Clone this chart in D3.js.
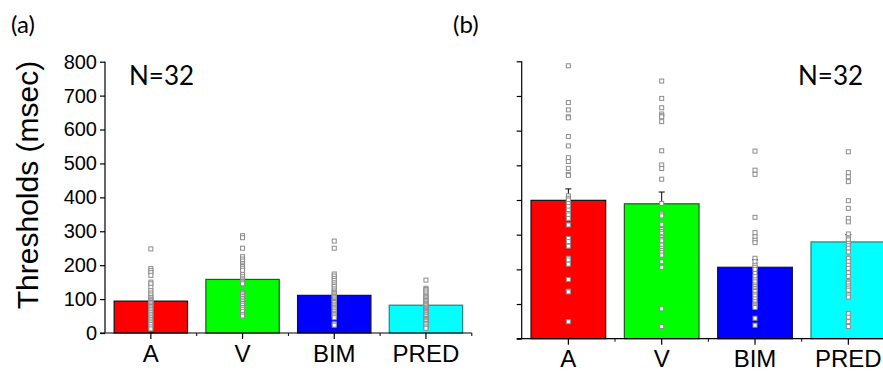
<!DOCTYPE html>
<html><head><meta charset="utf-8">
<script src="https://cdn.jsdelivr.net/npm/d3@7"></script>
<style>body{margin:0;background:#fff}svg{display:block}</style>
</head><body>
<svg id="c" width="883" height="371"></svg>
<script>
const categories = ["A", "V", "BIM", "PRED"];
const barColors = ["#ff0000", "#00ff00", "#0000ff", "#00ffff"];
const barStrokes = ["#111111", "#1b5e1b", "#101040", "#2a7f7f"];
const yTicks = [0, 100, 200, 300, 400, 500, 600, 700, 800];

// panel (a)
const meansA = [94, 158, 111, 82];
const pointsA = [
  [248,190,184,178,170,150,145,135,125,118,112,105,100,97,94,90,86,82,78,74,70,65,60,55,50,45,40,35,30,25,18,12],
  [287,281,250,225,218,212,205,200,196,191,185,172,166,160,156,152,148,145,120,117,112,107,102,97,92,87,82,75,70,63,55,50],
  [271,250,174,168,161,155,148,142,137,130,124,120,116,112,108,104,100,97,93,90,85,80,76,73,68,63,58,54,50,45,27,23],
  [156,132,128,124,118,112,108,104,100,96,92,88,85,83,80,76,73,70,66,63,60,56,53,48,43,40,36,33,28,24,18,14]
];
// panel (b)
const meansB = [399, 389, 206, 279];
const errTopB = [432, 423, 228, 300];
const pointsB = [
  [787,681,660,640,637,583,556,522,511,491,474,471,412,405,400,390,381,371,361,357,347,328,289,280,267,232,227,215,171,137,135,49],
  [743,693,666,648,643,640,626,542,501,491,460,390,362,359,354,330,315,309,304,294,291,286,282,270,261,254,248,241,222,206,86,35],
  [541,486,474,350,306,294,284,277,232,222,212,206,200,188,179,170,164,155,150,145,140,136,128,123,115,107,100,97,94,90,59,39],
  [539,479,467,453,398,376,347,337,302,290,285,275,268,261,250,232,222,212,203,190,180,164,160,152,146,140,126,120,73,62,49,35]
];
const yTitle = "Thresholds (msec)";
const nLabel = "N=32";

const svg = d3.select("#c");
const tickFont = "'Liberation Sans', Arial, sans-serif";
const noteFont = "Lato, 'Open Sans', sans-serif";

function panel(opt) {
  const g = svg.append("g");
  const x = d3.scaleBand().domain(categories).range([opt.x0, opt.x1]).paddingInner(0.2).paddingOuter(0.1);
  const y = d3.scaleLinear().domain([0, 800]).range([opt.y0, opt.y1]);
  g.selectAll("rect.bar").data(opt.means).join("rect")
    .attr("x", (d, i) => x(categories[i]))
    .attr("y", d => y(d))
    .attr("width", x.bandwidth())
    .attr("height", d => y(0) - y(d))
    .attr("fill", (d, i) => barColors[i])
    .attr("stroke", (d, i) => barStrokes[i])
    .attr("stroke-width", 1.2);
  if (opt.err) {
    opt.err.forEach((e, i) => {
      const cx = x(categories[i]) + x.bandwidth() / 2;
      g.append("line").attr("x1", cx).attr("x2", cx).attr("y1", y(opt.means[i])).attr("y2", y(e)).attr("stroke", "#000").attr("stroke-width", 1);
      g.append("line").attr("x1", cx - 3).attr("x2", cx + 3).attr("y1", y(e)).attr("y2", y(e)).attr("stroke", "#000").attr("stroke-width", 1);
    });
  }
  opt.points.forEach((arr, i) => {
    const cx = x(categories[i]) + x.bandwidth() / 2;
    g.selectAll(null).data(arr).join("rect")
      .attr("x", cx - 2).attr("y", d => y(d) - 2)
      .attr("width", 4).attr("height", 4)
      .attr("fill", "#fff").attr("stroke", "#8c8c8c").attr("stroke-width", 1);
  });
  const ya = d3.axisLeft(y).tickValues(yTicks).tickSize(5).tickPadding(3)
    .tickFormat(opt.labels ? d3.format("d") : "");
  const yg = g.append("g").attr("transform", `translate(${opt.x0},0)`).call(ya);
  yg.select(".domain").attr("d", `M0,${opt.y0}V${opt.y1}`).attr("stroke", "#000").attr("stroke-width", 1.2);
  yg.selectAll(".tick line").attr("stroke", "#000").attr("stroke-width", 1.2);
  yg.selectAll("text").attr("font-family", tickFont).attr("font-size", 20).attr("fill", "#000");
  const xa = d3.axisBottom(x).tickSize(6).tickPadding(4);
  const xg = g.append("g").attr("transform", `translate(0,${opt.y0})`).call(xa);
  xg.select(".domain").attr("d", `M${opt.x0 - 5},0H${opt.x1}`).attr("stroke", "#000").attr("stroke-width", 1.2);
  xg.selectAll(".tick line").attr("stroke", "#000").attr("stroke-width", 1.2);
  xg.selectAll("text").attr("font-family", tickFont).attr("font-size", 24).attr("fill", "#000").attr("dy", "0.78em");
  for (let k = 1; k <= 4; k++) {
    const bx = opt.x0 + k * x.step();
    xg.append("line").attr("x1", bx).attr("x2", bx).attr("y1", 0).attr("y2", 3).attr("stroke", "#000").attr("stroke-width", 1);
  }
  return g;
}

panel({x0: 105, x1: 471.8, y0: 333, y1: 61.7, means: meansA, points: pointsA, labels: true});
panel({x0: 521.7, x1: 895, y0: 338.7, y1: 61.3, means: meansB, points: pointsB, err: errTopB, labels: false});

svg.append("text").attr("transform", "translate(37.5,185) rotate(-90)")
  .attr("text-anchor", "middle").attr("font-family", tickFont).attr("font-size", 30).attr("fill", "#000")
  .text(yTitle);
svg.append("text").attr("x", 11).attr("y", 33).attr("font-family", noteFont).attr("font-size", 24).attr("fill", "#000").text("(a)");
svg.append("text").attr("x", 453).attr("y", 33).attr("font-family", noteFont).attr("font-size", 24).attr("fill", "#000").text("(b)");
svg.append("text").attr("x", 129).attr("y", 85).attr("font-family", noteFont).attr("font-size", 26).attr("fill", "#000").text(nLabel);
svg.append("text").attr("x", 798).attr("y", 85).attr("font-family", noteFont).attr("font-size", 26).attr("fill", "#000").text(nLabel);
</script>
</body></html>
